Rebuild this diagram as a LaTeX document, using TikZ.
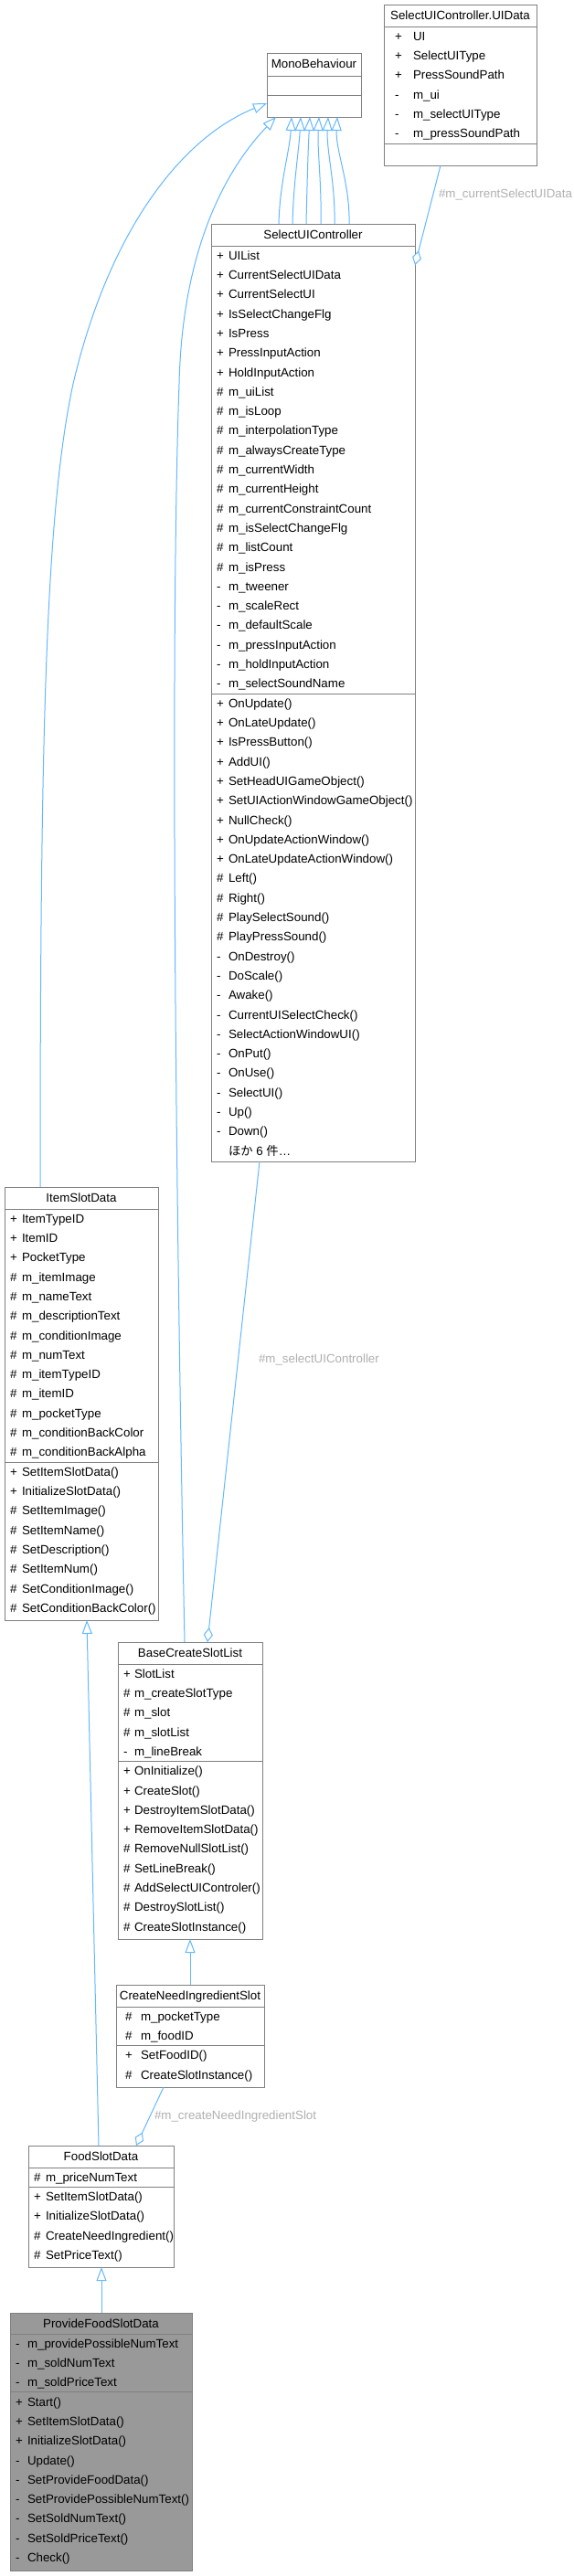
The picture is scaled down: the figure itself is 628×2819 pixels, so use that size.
\documentclass[tikz,border=0pt]{standalone}
\usepackage{fontspec}
\setmainfont{Liberation Sans}
\newfontfamily\jpfont{Noto Sans CJK JP}
\usetikzlibrary{arrows.meta}
\definecolor{edgec}{HTML}{63B8FF}
\definecolor{boxc}{HTML}{808080}
\definecolor{labc}{HTML}{B0B0B0}
\definecolor{mainfill}{HTML}{999999}
\tikzset{
  classbox/.style={draw=boxc, line width=1pt, inner sep=0pt, outer sep=0pt, rectangle},
  txt/.style={inner sep=0pt, outer sep=0pt, font=\fontsize{13.33pt}{16pt}\selectfont, text=black},
  lab/.style={inner sep=0pt, outer sep=0pt, font=\fontsize{13.33pt}{16pt}\selectfont, text=labc, anchor=west},
  sepl/.style={draw=boxc, line width=1pt},
  inh/.style={draw=edgec, line width=1pt, -{Triangle[open, length=15pt, width=11pt, fill=white]}},
  agg/.style={draw=edgec, line width=1pt, {Diamond[open, length=16pt, width=10pt, fill=white]}-}
}
\newcommand{\umlclass}[7]{%
  \node[classbox, fill=#6, minimum width={(#4)-(#2)}, minimum height={(#5)-(#3)}, anchor=north west] (#1) at (#2,#3) {};
  \node[txt, anchor=base] (#1-title) at ({((#2)+(#4))/2}, {(#3)+16.6}) {#7};
}
\newcommand{\sepline}[3]{\draw[sepl] (#1,#3) -- (#2,#3);}
\newcommand{\rowlist}[4]{%
  \foreach \sy/\nm [count=\i] in {#4} {
    \node[txt, anchor=base west] at (#1, {(#3)+21.3*\i-6.05}) {\sy};
    \node[txt, anchor=base west] at (#2, {(#3)+21.3*\i-6.05}) {\nm};
  }
}
\begin{document}
\begin{tikzpicture}[x=1pt,y=-1pt]
\useasboundingbox (0,0) rectangle (628,2819);
\fill[white] (0,0) rectangle (628,2819);

% MonoBehaviour
\umlclass{mono}{292}{58}{395}{128}{white}{MonoBehaviour}
\sepline{292}{395}{83}
\sepline{292}{395}{104}

% SelectUIController.UIData
\umlclass{uid}{420}{5}{587}{181}{white}{SelectUIController.UIData}
\sepline{420}{587}{29}
\sepline{420}{587}{157}
\rowlist{432}{452}{29}{+/UI, +/SelectUIType, +/PressSoundPath, -/m\_ui, -/m\_selectUIType, -/m\_pressSoundPath}

% SelectUIController
\umlclass{sui}{231}{245}{454}{1271}{white}{SelectUIController}
\sepline{231}{454}{269}
\sepline{231}{454}{759}
\rowlist{237}{250}{269}{+/UIList, +/CurrentSelectUIData, +/CurrentSelectUI, +/IsSelectChangeFlg, +/IsPress, +/PressInputAction, +/HoldInputAction, \#/m\_uiList, \#/m\_isLoop, \#/m\_interpolationType, \#/m\_alwaysCreateType, \#/m\_currentWidth, \#/m\_currentHeight, \#/m\_currentConstraintCount, \#/m\_isSelectChangeFlg, \#/m\_listCount, \#/m\_isPress, -/m\_tweener, -/m\_scaleRect, -/m\_defaultScale, -/m\_pressInputAction, -/m\_holdInputAction, -/m\_selectSoundName}
\rowlist{237}{250}{759}{+/OnUpdate(), +/OnLateUpdate(), +/IsPressButton(), +/AddUI(), +/SetHeadUIGameObject(), +/SetUIActionWindowGameObject(), +/NullCheck(), +/OnUpdateActionWindow(), +/OnLateUpdateActionWindow(), \#/Left(), \#/Right(), \#/PlaySelectSound(), \#/PlayPressSound(), -/OnDestroy(), -/DoScale(), -/Awake(), -/CurrentUISelectCheck(), -/SelectActionWindowUI(), -/OnPut(), -/OnUse(), -/SelectUI(), -/Up(), -/Down()}
\node[txt, anchor=base west] (sui-more) at (250, {759+21.3*24-6.05}) {{\jpfont ほか} 6 {\jpfont 件}…};

% ItemSlotData
\umlclass{isd}{5}{1299}{173}{1773}{white}{ItemSlotData}
\sepline{5}{173}{1323}
\sepline{5}{173}{1600}
\rowlist{11}{24}{1323}{+/ItemTypeID, +/ItemID, +/PocketType, \#/m\_itemImage, \#/m\_nameText, \#/m\_descriptionText, \#/m\_conditionImage, \#/m\_numText, \#/m\_itemTypeID, \#/m\_itemID, \#/m\_pocketType, \#/m\_conditionBackColor, \#/m\_conditionBackAlpha}
\rowlist{11}{24}{1600}{+/SetItemSlotData(), +/InitializeSlotData(), \#/SetItemImage(), \#/SetItemName(), \#/SetDescription(), \#/SetItemNum(), \#/SetConditionImage(), \#/SetConditionBackColor()}

% BaseCreateSlotList
\umlclass{bcsl}{129}{1797}{287}{2122}{white}{BaseCreateSlotList}
\sepline{129}{287}{1821}
\sepline{129}{287}{1927.5}
\rowlist{135}{147}{1821}{+/SlotList, \#/m\_createSlotType, \#/m\_slot, \#/m\_slotList, -/m\_lineBreak}
\rowlist{135}{147}{1927.5}{+/OnInitialize(), +/CreateSlot(), +/DestroyItemSlotData(), +/RemoveItemSlotData(), \#/RemoveNullSlotList(), \#/SetLineBreak(), \#/AddSelectUIControler(), \#/DestroySlotList(), \#/CreateSlotInstance()}

% CreateNeedIngredientSlot
\umlclass{cnis}{127}{2172}{289}{2284}{white}{CreateNeedIngredientSlot}
\sepline{127}{289}{2196}
\sepline{127}{289}{2238.6}
\rowlist{137}{154}{2196}{\#/m\_pocketType, \#/m\_foodID}
\rowlist{137}{154}{2238.6}{+/SetFoodID(), \#/CreateSlotInstance()}

% FoodSlotData
\umlclass{fsd}{31}{2348}{190}{2481}{white}{FoodSlotData}
\sepline{31}{190}{2372}
\sepline{31}{190}{2393.3}
\rowlist{37}{50}{2372}{\#/m\_priceNumText}
\rowlist{37}{50}{2393.3}{+/SetItemSlotData(), +/InitializeSlotData(), \#/CreateNeedIngredient(), \#/SetPriceText()}

% ProvideFoodSlotData
\umlclass{pfsd}{11}{2531}{210}{2813}{mainfill}{ProvideFoodSlotData}
\sepline{11}{210}{2554}
\sepline{11}{210}{2617.9}
\rowlist{17}{30}{2554}{-/m\_providePossibleNumText, -/m\_soldNumText, -/m\_soldPriceText}
\rowlist{17}{30}{2617.9}{+/Start(), +/SetItemSlotData(), +/InitializeSlotData(), -/Update(), -/SetProvideFoodData(), -/SetProvidePossibleNumText(), -/SetSoldNumText(), -/SetSoldPriceText(), -/Check()}

% inheritance SelectUIController -> MonoBehaviour (6 edges)
\foreach \xs/\xt in {74/27, 89/37, 104/47, 120/57, 135/67, 151/77} {
  \draw[inh] ([xshift=\xs pt]sui.north west) .. controls +(1,-45) and +(-2,37) .. ([xshift=\xt pt]mono.south west);
}
% ItemSlotData -> MonoBehaviour
\draw[inh] ([xshift=39pt]isd.north west) .. controls (44,800) and (50,560) .. (80,420) .. controls (120,250) and (200,150) .. ([yshift=-55pt]mono.north west);
% BaseCreateSlotList -> MonoBehaviour
\draw[inh] ([xshift=73pt]bcsl.north west) .. controls (192,1300) and (186,700) .. (196,420) .. controls (200,250) and (262,170) .. ([xshift=10pt]mono.south west);
% FoodSlotData -> ItemSlotData
\draw[inh] ([xshift=77pt]fsd.north west) -- ([xshift=90pt]isd.south west);
% CreateNeedIngredientSlot -> BaseCreateSlotList
\draw[inh] ([xshift=81pt]cnis.north west) -- ([xshift=79pt]bcsl.south west);
% ProvideFoodSlotData -> FoodSlotData
\draw[inh] ([xshift=100pt]pfsd.north west) -- ([xshift=80pt]fsd.south west);

% aggregations
\draw[agg] ([yshift=-45pt]sui.north east) -- ([xshift=62pt]uid.south west);
\node[lab] (lab1) at (480,213) {\#m\_currentSelectUIData};
\draw[agg] ([xshift=98pt]bcsl.north west) -- ([xshift=53pt]sui.south west);
\node[lab] (lab2) at (283,1488) {\#m\_selectUIController};
\draw[agg] ([xshift=118pt]fsd.north west) -- ([xshift=52pt]cnis.south west);
\node[lab] (lab3) at (169,2316) {\#m\_createNeedIngredientSlot};
\end{tikzpicture}
\end{document}
